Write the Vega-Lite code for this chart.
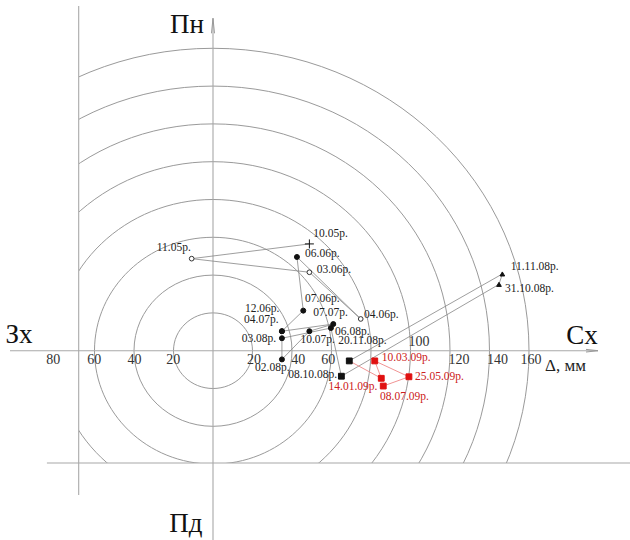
{
  "$schema": "https://vega.github.io/schema/vega-lite/v6.json",
  "width": 551,
  "height": 463,
  "autosize": {"type": "none"},
  "padding": {"left": 79, "top": 0, "right": 0, "bottom": 77},
  "background": "white",
  "config": {"view": {"stroke": null}},
  "datasets": {
    "rings": [{"r": 20}, {"r": 40}, {"r": 60}, {"r": 80}, {"r": 100}, {"r": 120}, {"r": 140}, {"r": 160}],
    "frame": [
      {"x1": 0, "y1": -101, "x2": 0, "y2": 175.9},
      {"x1": -102.8, "y1": 0, "x2": 194.9, "y2": 0},
      {"x1": -68.0, "y1": -76.3, "x2": -68.0, "y2": 182.4},
      {"x1": -84.1, "y1": -59.4, "x2": 211.2, "y2": -59.4}
    ],
    "headUp": [{"x": 0, "y": 171.9}],
    "headRight": [{"x": 191.9, "y": 0}],
    "obs": [
      {"seq": 1, "date": "10.05р.", "x": 48.8, "y": 56.5, "kind": "cross", "grp": "a", "lx": 50.8, "ly": 61.7},
      {"seq": 2, "date": "11.05р.", "x": -10.8, "y": 48.7, "kind": "open", "grp": "a", "lx": -28.5, "ly": 54.2},
      {"seq": 3, "date": "03.06р.", "x": 48.8, "y": 41.5, "kind": "open", "grp": "a", "lx": 52.5, "ly": 42.7},
      {"seq": 4, "date": "04.06р.", "x": 74.8, "y": 16.8, "kind": "open", "grp": "a", "lx": 76.5, "ly": 18.9},
      {"seq": 5, "date": "06.06р.", "x": 42.5, "y": 49.6, "kind": "dot", "grp": "a", "lx": 46.6, "ly": 50.9},
      {"seq": 6, "date": "07.06р.", "x": 45.7, "y": 21.2, "kind": "dot", "grp": "a", "lx": 46.6, "ly": 27.2},
      {"seq": 7, "date": "12.06р.", "x": 34.9, "y": 10.3, "kind": "dot", "grp": "a", "lx": 16.2, "ly": 22.1},
      {"seq": 8, "date": "04.07р.", "x": 34.9, "y": 10.3, "kind": "dot", "grp": "a", "lx": 15.7, "ly": 16.2},
      {"seq": 9, "date": "07.07р.", "x": 60.9, "y": 14.1, "kind": "dot", "grp": "a", "lx": 50.8, "ly": 19.9},
      {"seq": 10, "date": "10.07р.", "x": 48.8, "y": 10.3, "kind": "dot", "grp": "a", "lx": 44.3, "ly": 5.4},
      {"seq": 11, "date": "02.08р.", "x": 34.9, "y": -4.6, "kind": "dot", "grp": "a", "lx": 21.3, "ly": -9.3},
      {"seq": 12, "date": "03.08р.", "x": 34.9, "y": 6.6, "kind": "dot", "grp": "a", "lx": 14.5, "ly": 6.2},
      {"seq": 13, "date": "06.08р.", "x": 59.7, "y": 12.0, "kind": "dot", "grp": "a", "lx": 61.8, "ly": 10.1},
      {"seq": 14, "date": "08.10.08р.", "x": 65.0, "y": -13.5, "kind": "square", "grp": "a", "lx": 38.1, "ly": -12.9},
      {"seq": 15, "date": "31.10.08р.", "x": 144.8, "y": 35.1, "kind": "triangle", "grp": "a", "lx": 147.8, "ly": 32.6},
      {"seq": 16, "date": "11.11.08р.", "x": 146.5, "y": 40.6, "kind": "triangle", "grp": "a", "lx": 150.7, "ly": 44.4},
      {"seq": 17, "date": "20.11.08р.", "x": 69.0, "y": -5.4, "kind": "square", "grp": "a", "lx": 63.4, "ly": 5.1},
      {"seq": 18, "date": "14.01.09р.", "x": 85.2, "y": -14.6, "kind": "redsquare", "grp": "b", "lx": 58.5, "ly": -19.2},
      {"seq": 19, "date": "10.03.09р.", "x": 81.9, "y": -5.4, "kind": "redsquare", "grp": "b", "lx": 85.4, "ly": -4.0},
      {"seq": 20, "date": "25.05.09р.", "x": 99.2, "y": -13.8, "kind": "redsquare", "grp": "b", "lx": 102.3, "ly": -13.8},
      {"seq": 21, "date": "08.07.09р.", "x": 86.2, "y": -18.7, "kind": "redsquare", "grp": "b", "lx": 84.6, "ly": -24.7}
    ],
    "ticks": [
      {"t": "80", "x": -80.9, "y": -4.9},
      {"t": "60", "x": -60.1, "y": -4.9},
      {"t": "40", "x": -39.8, "y": -4.9},
      {"t": "20", "x": -20.1, "y": -4.9},
      {"t": "20", "x": 20.8, "y": -4.7},
      {"t": "40", "x": 43.2, "y": -4.7},
      {"t": "60", "x": 58.4, "y": -4.7},
      {"t": "100", "x": 104.3, "y": 4.6},
      {"t": "120", "x": 124.6, "y": -4.7},
      {"t": "140", "x": 144.1, "y": -4.7},
      {"t": "160", "x": 161.0, "y": -4.7}
    ],
    "dirs": [
      {"t": "Пн", "x": -13.2, "y": 168.3},
      {"t": "Зх", "x": -98.2, "y": 4.2},
      {"t": "Сх", "x": 186.8, "y": 3.5},
      {"t": "Пд", "x": -13.7, "y": -95.9}
    ],
    "unit": [{"t": "Δ, мм", "x": 168.1, "y": -10.7}]
  },
  "resolve": {"scale": {"size": "independent", "shape": "independent", "fill": "independent", "stroke": "independent", "color": "independent"}},
  "layer": [
    {
      "data": {"name": "rings"},
      "mark": {
        "type": "point",
        "shape": "M1,0C1,0.5285,0.5523,0.957,0,0.957C-0.5523,0.957,-1,0.5285,-1,0C-1,-0.5285,-0.5523,-0.957,0,-0.957C0.5523,-0.957,1,-0.5285,1,0Z",
        "filled": false,
        "stroke": "#9a9a9a",
        "strokeWidth": 1,
        "opacity": 1,
        "clip": true
      },
      "encoding": {
        "x": {"datum": 0, "type": "quantitative", "scale": {"domain": [-67.848, 211.139], "nice": false, "zero": false}, "axis": null},
        "y": {"datum": 0, "type": "quantitative", "scale": {"domain": [-59.418, 185.556], "nice": false, "zero": false}, "axis": null},
        "size": {"field": "r", "type": "quantitative", "scale": {"type": "pow", "exponent": 2, "domain": [0, 160], "range": [0, 399424]}, "legend": null}
      }
    },
    {
      "data": {"name": "frame"},
      "mark": {"type": "rule", "color": "#a8a8a8", "strokeWidth": 1.1},
      "encoding": {
        "x": {"field": "x1", "type": "quantitative", "scale": {"domain": [-67.848, 211.139], "nice": false, "zero": false}, "axis": null},
        "y": {"field": "y1", "type": "quantitative", "scale": {"domain": [-59.418, 185.556], "nice": false, "zero": false}, "axis": null},
        "x2": {"field": "x2"},
        "y2": {"field": "y2"}
      }
    },
    {
      "data": {"name": "headUp"},
      "mark": {"type": "point", "filled": false, "stroke": "#999999", "strokeWidth": 1, "opacity": 1, "shape": "M-0.2,1L0,-1L0.2,1", "size": 225},
      "encoding": {
        "x": {"field": "x", "type": "quantitative", "scale": {"domain": [-67.848, 211.139], "nice": false, "zero": false}, "axis": null},
        "y": {"field": "y", "type": "quantitative", "scale": {"domain": [-59.418, 185.556], "nice": false, "zero": false}, "axis": null}
      }
    },
    {
      "data": {"name": "headRight"},
      "mark": {"type": "point", "filled": false, "stroke": "#999999", "strokeWidth": 1, "opacity": 1, "shape": "M-1,-0.22L1,0L-1,0.22", "size": 144},
      "encoding": {
        "x": {"field": "x", "type": "quantitative", "scale": {"domain": [-67.848, 211.139], "nice": false, "zero": false}, "axis": null},
        "y": {"field": "y", "type": "quantitative", "scale": {"domain": [-59.418, 185.556], "nice": false, "zero": false}, "axis": null}
      }
    },
    {
      "data": {"name": "obs"},
      "transform": [{"filter": "datum.seq <= 17"}],
      "mark": {"type": "line", "color": "#858585", "strokeWidth": 0.8},
      "encoding": {
        "x": {"field": "x", "type": "quantitative", "scale": {"domain": [-67.848, 211.139], "nice": false, "zero": false}, "axis": null},
        "y": {"field": "y", "type": "quantitative", "scale": {"domain": [-59.418, 185.556], "nice": false, "zero": false}, "axis": null},
        "order": {"field": "seq", "type": "quantitative"}
      }
    },
    {
      "data": {"name": "obs"},
      "transform": [{"filter": "datum.seq >= 17"}],
      "mark": {"type": "line", "color": "#ee8888", "strokeWidth": 0.9},
      "encoding": {
        "x": {"field": "x", "type": "quantitative", "scale": {"domain": [-67.848, 211.139], "nice": false, "zero": false}, "axis": null},
        "y": {"field": "y", "type": "quantitative", "scale": {"domain": [-59.418, 185.556], "nice": false, "zero": false}, "axis": null},
        "order": {"field": "seq", "type": "quantitative"}
      }
    },
    {
      "data": {"name": "obs"},
      "mark": {"type": "point", "filled": true, "strokeWidth": 1, "opacity": 1},
      "encoding": {
        "x": {"field": "x", "type": "quantitative", "scale": {"domain": [-67.848, 211.139], "nice": false, "zero": false}, "axis": null},
        "y": {"field": "y", "type": "quantitative", "scale": {"domain": [-59.418, 185.556], "nice": false, "zero": false}, "axis": null},
        "shape": {"field": "kind", "type": "nominal", "scale": {"domain": ["cross", "open", "dot", "square", "triangle", "redsquare"], "range": ["M-1,0L1,0M0,-1L0,1", "circle", "circle", "square", "triangle-up", "square"]}, "legend": null},
        "fill": {"field": "kind", "type": "nominal", "scale": {"domain": ["cross", "open", "dot", "square", "triangle", "redsquare"], "range": ["#111111", "#ffffff", "#111111", "#111111", "#111111", "#e01010"]}, "legend": null},
        "stroke": {"field": "kind", "type": "nominal", "scale": {"domain": ["cross", "open", "dot", "square", "triangle", "redsquare"], "range": ["#111111", "#333333", "#111111", "#111111", "#111111", "#e01010"]}, "legend": null},
        "size": {"field": "kind", "type": "ordinal", "scale": {"type": "ordinal", "domain": ["cross", "open", "dot", "square", "triangle", "redsquare"], "range": [81, 22, 25, 34, 22, 34]}, "legend": null}
      }
    },
    {
      "data": {"name": "obs"},
      "mark": {"type": "text", "align": "left", "baseline": "middle", "font": "Liberation Serif", "fontSize": 11.5},
      "encoding": {
        "x": {"field": "lx", "type": "quantitative", "scale": {"domain": [-67.848, 211.139], "nice": false, "zero": false}, "axis": null},
        "y": {"field": "ly", "type": "quantitative", "scale": {"domain": [-59.418, 185.556], "nice": false, "zero": false}, "axis": null},
        "text": {"field": "date"},
        "color": {"field": "grp", "type": "nominal", "scale": {"domain": ["a", "b"], "range": ["#222222", "#cc2020"]}, "legend": null}
      }
    },
    {
      "data": {"name": "ticks"},
      "mark": {"type": "text", "align": "center", "baseline": "middle", "font": "Liberation Serif", "fontSize": 14, "color": "#333333"},
      "encoding": {
        "x": {"field": "x", "type": "quantitative", "scale": {"domain": [-67.848, 211.139], "nice": false, "zero": false}, "axis": null},
        "y": {"field": "y", "type": "quantitative", "scale": {"domain": [-59.418, 185.556], "nice": false, "zero": false}, "axis": null},
        "text": {"field": "t"}
      }
    },
    {
      "data": {"name": "dirs"},
      "mark": {"type": "text", "align": "center", "baseline": "alphabetic", "font": "Liberation Serif", "fontSize": 27, "color": "#111111"},
      "encoding": {
        "x": {"field": "x", "type": "quantitative", "scale": {"domain": [-67.848, 211.139], "nice": false, "zero": false}, "axis": null},
        "y": {"field": "y", "type": "quantitative", "scale": {"domain": [-59.418, 185.556], "nice": false, "zero": false}, "axis": null},
        "text": {"field": "t"}
      }
    },
    {
      "data": {"name": "unit"},
      "mark": {"type": "text", "align": "left", "baseline": "alphabetic", "font": "Liberation Serif", "fontSize": 17, "color": "#222222"},
      "encoding": {
        "x": {"field": "x", "type": "quantitative", "scale": {"domain": [-67.848, 211.139], "nice": false, "zero": false}, "axis": null},
        "y": {"field": "y", "type": "quantitative", "scale": {"domain": [-59.418, 185.556], "nice": false, "zero": false}, "axis": null},
        "text": {"field": "t"}
      }
    }
  ]
}
